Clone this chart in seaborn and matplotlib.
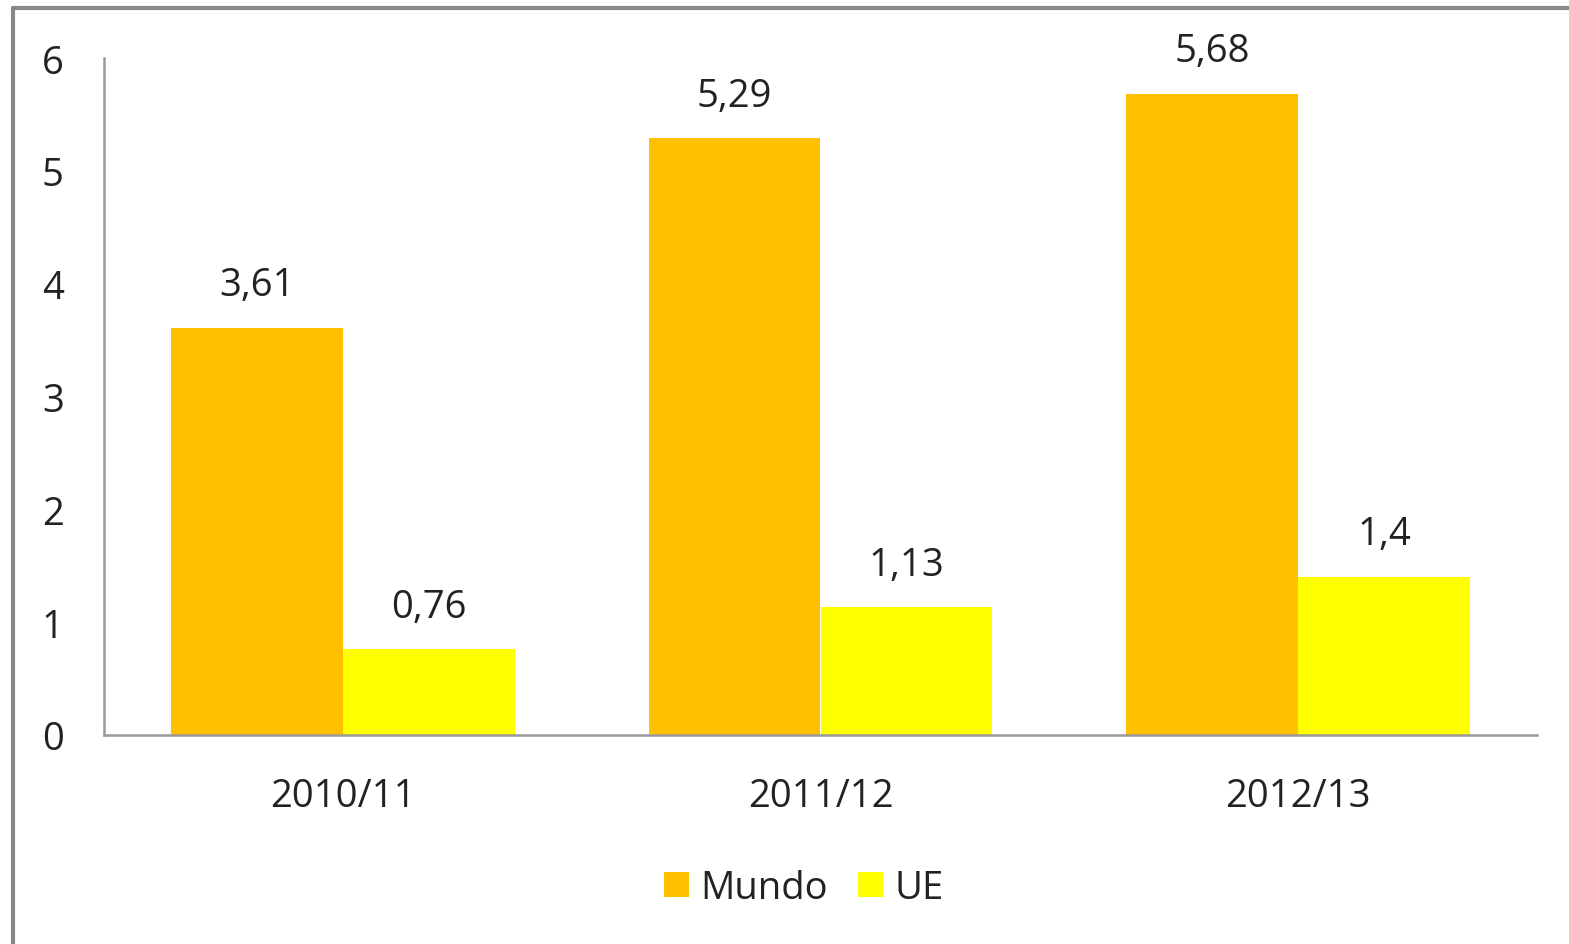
import matplotlib
matplotlib.use("Agg")
import matplotlib.pyplot as plt
import seaborn as sns
import pandas as pd
from matplotlib.patches import Patch
from matplotlib.lines import Line2D

categories = ["2010/11", "2011/12", "2012/13"]
mundo = [3.61, 5.29, 5.68]
ue = [0.76, 1.13, 1.4]
series_names = ["Mundo", "UE"]
colors = ["#FFC000", "#FFFF00"]
yticks = [0, 1, 2, 3, 4, 5, 6]

df = pd.DataFrame({
    "cat": categories * 2,
    "serie": [series_names[0]] * 3 + [series_names[1]] * 3,
    "val": mundo + ue,
})

sns.set_theme(style="white")
plt.rcParams["font.family"] = ["Open Sans", "DejaVu Sans"]

FS = 27.5
fig = plt.figure(figsize=(15.69, 9.45), dpi=100)
ax = fig.add_axes([104/1569, 209/945, (1537-104)/1569, (736-59)/945])
sns.barplot(data=df, x="cat", y="val", hue="serie", palette=colors,
            width=0.72, ax=ax, legend=False, saturation=1, linewidth=0)

for cont in ax.containers:
    labels = [f"{v:g}".replace(".", ",") for v in cont.datavalues]
    ax.bar_label(cont, labels=labels, padding=17, fontsize=FS, color="#222222")

ax.set_ylim(0, 6)
ax.set_xlim(-0.5, 2.5)
ax.set_yticks(yticks)
ax.set_yticklabels([str(t) for t in yticks], fontsize=FS, color="#222222")
ax.tick_params(axis="y", length=0, pad=29)
ax.tick_params(axis="x", length=0, pad=30, labelsize=FS, labelcolor="#222222")
ax.set_xlabel("")
ax.set_ylabel("")
for s in ["top", "right"]:
    ax.spines[s].set_visible(False)
for s in ["left", "bottom"]:
    ax.spines[s].set_color("#9a9a9a")
    ax.spines[s].set_linewidth(1.8)

handles = [Patch(facecolor=c, edgecolor="none", label=n) for c, n in zip(colors, series_names)]
fig.legend(handles=handles, loc="center", bbox_to_anchor=(804/1569, 1 - 889/945),
           ncol=2, frameon=False, fontsize=FS, handlelength=0.65, handleheight=0.65,
           handletextpad=0.3, columnspacing=0.8, labelcolor="#222222")

# outer chart border (left and top visible)
fig.add_artist(Line2D([13/1569, 13/1569], [0, 1 - 9/945], transform=fig.transFigure,
                      color="#888888", linewidth=3))
fig.add_artist(Line2D([13/1569, 1], [1 - 9/945, 1 - 9/945], transform=fig.transFigure,
                      color="#888888", linewidth=3))

fig.savefig("out.png", dpi=100)
